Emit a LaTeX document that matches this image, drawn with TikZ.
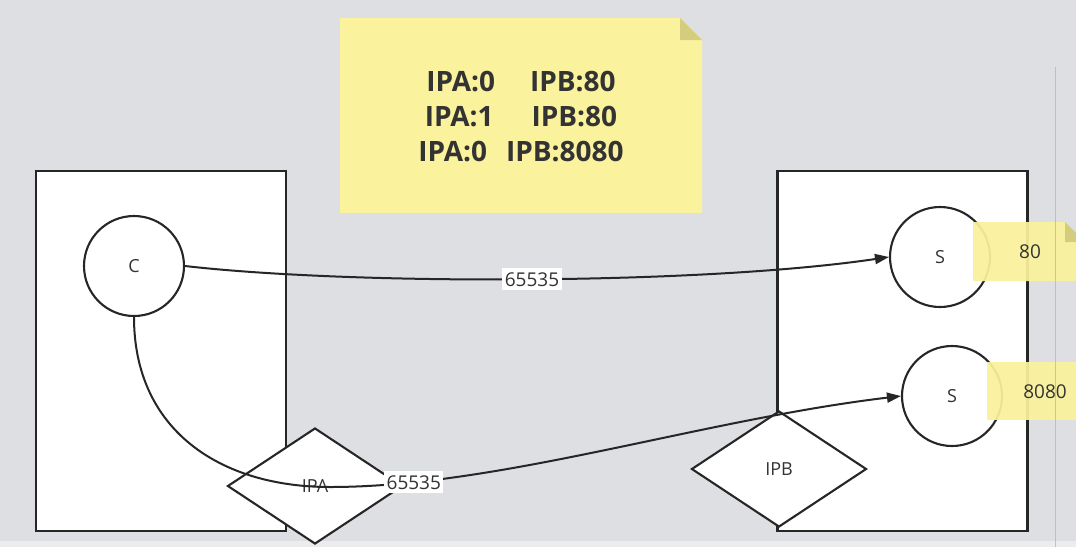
\documentclass[tikz,border=0pt]{standalone}
\usepackage{fontspec}
\setmainfont{Open Sans}
\usetikzlibrary{shapes.geometric,arrows.meta}
\definecolor{bgc}{HTML}{DEDFE3}
\definecolor{notec}{HTML}{FAF29C}
\definecolor{foldc}{HTML}{D5CD7E}
\definecolor{inkc}{HTML}{262626}
\definecolor{txtc}{HTML}{333333}
\begin{document}
\begin{tikzpicture}[x=1pt,y=-1pt,
  hostbox/.style={draw=inkc,line width=2.6pt,fill=white,minimum width=250pt,minimum height=360pt,inner sep=0pt},
  circ/.style={circle,draw=inkc,line width=2.1pt,fill=white,minimum size=100pt,inner sep=0pt,text=txtc,font=\fontsize{18}{21}\selectfont},
  dia/.style={diamond,draw=inkc,line width=2.1pt,fill=white,minimum width=175pt,minimum height=116pt,inner sep=0pt,text=txtc,font=\fontsize{18}{21}\selectfont},
  notetext/.style={text=txtc,font=\fontsize{19}{22}\selectfont,inner sep=0pt},
  conn/.style={draw=inkc,line width=2pt,-{Triangle[length=14pt,width=10pt]}},
  elabel/.style={fill=white,text=txtc,font=\fontsize{19}{22}\selectfont,inner xsep=2.5pt,inner ysep=4pt,text height=14pt,text depth=0pt}
]
\useasboundingbox (0,0) rectangle (1076,547);
\begin{scope}
\clip (0,0) rectangle (1076,547);
\fill[bgc] (0,0) rectangle (1076,547);
\fill[black!4,opacity=0.6] (0,541) rectangle (1076,547);
% big note
\fill[notec] (340,18) -- (680,18) -- (702,40) -- (702,213) -- (340,213) -- cycle;
\fill[foldc] (680,18) -- (680,40) -- (702,40) -- cycle;
\node[text=txtc,font=\bfseries\fontsize{28}{35}\selectfont,align=center,inner sep=0pt] (memo) at (521,117)
  {IPA:0\hspace{35pt}IPB:80\\IPA:1\hspace{38pt}IPB:80\\IPA:0\hspace{19pt}IPB:8080};
% hosts
\node[hostbox] (hostA) at (161,351) {};
\node[hostbox] (hostB) at (902.5,351) {};
% circles
\node[circ] (C) at (134,266) {C};
\node[circ] (S1) at (940,257) {S};
\node[circ] (S2) at (952,396) {S};
% diamonds
\node[dia] (IPA) at (315,486) {IPA};
\node[dia] (IPB) at (779,469) {IPB};
% port notes
\fill[notec,opacity=0.93] (973,222) -- (1065,222) -- (1085,242) -- (1085,281) -- (973,281) -- cycle;
\fill[foldc] (1065,222) -- (1065,242) -- (1085,242) -- cycle;
\node[notetext] (p80) at (1030,252) {80};
\fill[notec,opacity=0.93] (987,362) rectangle (1085,420);
\node[notetext] (p8080) at (1045,392) {8080};
% connectors
\draw[conn] (C.east) .. controls (350,285) and (700,285) .. node[elabel,pos=0.505] (l1) {65535} (S1.west);
\draw[conn] (C.south) .. controls (134,430) and (220,487) .. (330,487)
  .. controls (500,487) and (700,420) .. node[elabel,pos=0.16] (l2) {65535} (S2.west);
% panel edge
\draw[black!30,line width=1pt,opacity=0.7] (1055,67) -- (1055,547);
\end{scope}
\end{tikzpicture}
\end{document}
